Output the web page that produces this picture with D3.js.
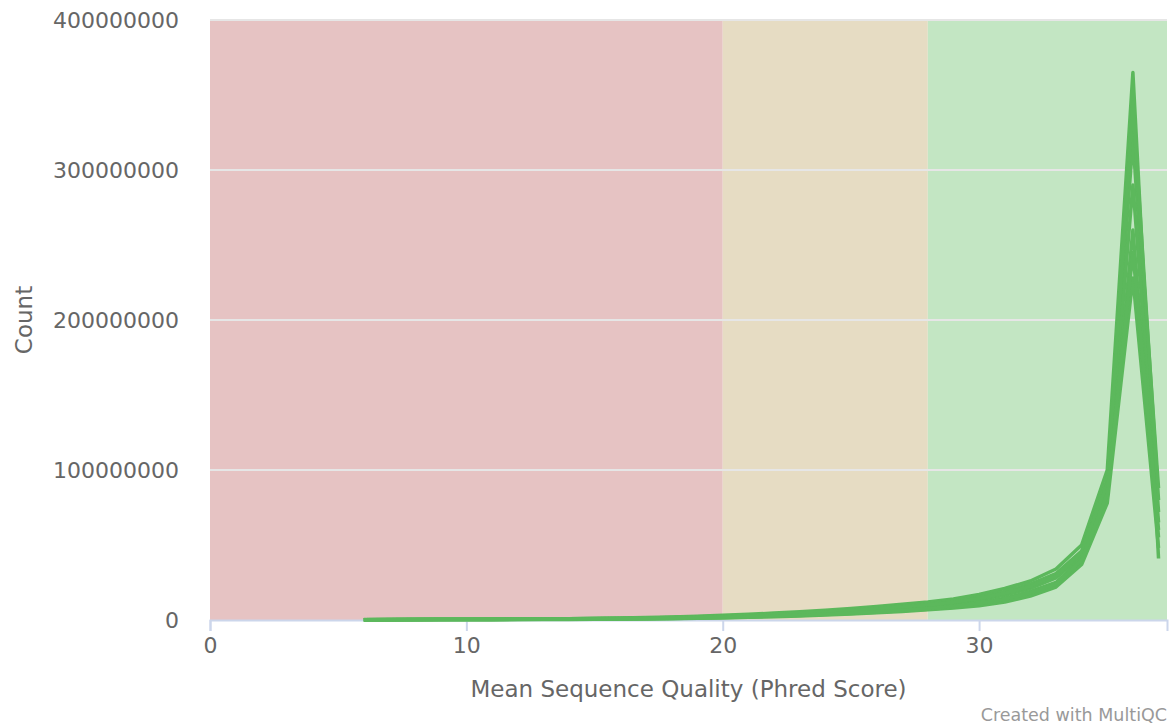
<!DOCTYPE html>
<html>
<head>
<meta charset="utf-8">
<script src="https://cdn.jsdelivr.net/npm/d3@7"></script>
<style>
  body { margin: 0; background: #fff; }
  svg text { font-family: "DejaVu Sans", sans-serif; }
</style>
</head>
<body>
<svg id="chart" width="1176" height="727"></svg>
<script>
// quality scores (x) shared by every sample
var scores = d3.range(6, 38);

// counts per sample, in millions of reads
var sampleA = [0.3,0.4,0.45,0.5,0.55,0.6,0.7,0.8,0.9,1.1,1.3,1.6,2.0,2.5,3.1,3.8,4.6,5.5,6.5,7.7,9.0,10.5,12,14,17,21,26,34,50,100,365,41];
var sampleB = [0.25,0.35,0.4,0.45,0.5,0.55,0.6,0.7,0.8,0.95,1.15,1.4,1.75,2.2,2.7,3.3,4.0,4.8,5.7,6.8,8.0,9.3,10.8,12.6,15.2,19,24,31,46,94,330,88];
var sampleC = [0.2,0.3,0.35,0.4,0.42,0.47,0.52,0.6,0.7,0.82,1.0,1.2,1.5,1.9,2.3,2.8,3.4,4.1,4.9,5.8,6.9,8.0,9.3,11,13.4,16.5,21,28,43,89,320,72];
var sampleD = [0.15,0.25,0.3,0.33,0.36,0.4,0.45,0.52,0.6,0.7,0.85,1.0,1.25,1.6,1.9,2.4,2.9,3.5,4.2,5.0,5.9,6.9,8.1,9.5,11.6,14.5,19,25,41,86,290,65];
var sampleE = [0.12,0.2,0.25,0.28,0.3,0.33,0.38,0.43,0.5,0.6,0.72,0.85,1.05,1.35,1.6,2.0,2.5,3.0,3.6,4.4,5.2,6.1,7.2,8.5,10.4,13,17.5,23,39,82,260,55];
var sampleF = [0.1,0.15,0.2,0.2,0.25,0.25,0.3,0.35,0.4,0.5,0.6,0.7,0.9,1.1,1.4,1.8,2.2,2.7,3.3,4.0,4.8,5.7,6.8,8.0,9.5,12,16,22,37,78,228,48];
var sampleG = [0.22,0.32,0.38,0.42,0.46,0.5,0.56,0.65,0.75,0.9,1.08,1.3,1.62,2.05,2.5,3.05,3.7,4.45,5.3,6.3,7.4,8.6,10,11.8,14.3,17.8,22.5,29.5,45,91,345,80];
var sampleH = [0.14,0.22,0.27,0.3,0.33,0.37,0.42,0.48,0.55,0.65,0.78,0.92,1.15,1.48,1.75,2.2,2.7,3.25,3.9,4.7,5.55,6.5,7.6,9.0,11,13.8,18.2,24,40,84,245,60];

var samples = [sampleA, sampleB, sampleC, sampleD, sampleE, sampleF, sampleG, sampleH];

// background bands: fail / warn / pass
var bandStarts = [0, 20, 28];
var bandEnds = [20, 28, 37.33];
var bandColors = ["#e6c3c3", "#e6dcc3", "#c3e6c3"];

var xTicks = [0, 10, 20, 30];
var yTicks = [0, 100000000, 200000000, 300000000, 400000000];

var svg = d3.select("#chart"),
    margin = {top: 20, right: 9, bottom: 107, left: 210},
    width = +svg.attr("width") - margin.left - margin.right,
    height = +svg.attr("height") - margin.top - margin.bottom;

var x = d3.scaleLinear().domain([0, 37.33]).range([0, width]);
var y = d3.scaleLinear().domain([0, 400000000]).range([height, 0]);

var g = svg.append("g").attr("transform", "translate(" + margin.left + "," + margin.top + ")");

g.selectAll("rect.band")
    .data(bandStarts)
    .enter().append("rect")
    .attr("class", "band")
    .attr("x", function(d) { return x(d); })
    .attr("y", 0)
    .attr("width", function(d, i) { return x(bandEnds[i]) - x(d); })
    .attr("height", height)
    .attr("fill", function(d, i) { return bandColors[i]; });

// grid
g.selectAll("line.grid")
    .data(yTicks.slice(1))
    .enter().append("line")
    .attr("class", "grid")
    .attr("x1", 0).attr("x2", width)
    .attr("y1", function(d) { return y(d); })
    .attr("y2", function(d) { return y(d); })
    .attr("stroke", "#e6e6e6")
    .attr("stroke-width", 2);

// y axis labels
var yAxis = g.append("g").call(d3.axisLeft(y).tickValues(yTicks).tickSize(0).tickPadding(31).tickFormat(d3.format("d")));
yAxis.select(".domain").remove();
yAxis.selectAll("text").attr("fill", "#666").style("font-size", "22px").attr("dy", "0.35em");

// x axis
var xAxis = g.append("g")
    .attr("transform", "translate(0," + height + ")")
    .call(d3.axisBottom(x).tickValues(xTicks).tickSize(11).tickPadding(6).tickFormat(d3.format("d")));
xAxis.select(".domain").attr("stroke", "#ccd6eb").attr("stroke-width", 2);
xAxis.selectAll(".tick line").attr("stroke", "#ccd6eb").attr("stroke-width", 2);
xAxis.selectAll("text").attr("fill", "#666").style("font-size", "22px");

// sample lines
var line = d3.line()
    .x(function(d, i) { return x(scores[i]); })
    .y(function(d) { return y(d * 1000000); });

g.append("g")
    .selectAll("path")
    .data(samples)
    .enter().append("path")
    .attr("d", line)
    .attr("fill", "none")
    .attr("stroke", "#5cb85c")
    .attr("stroke-width", 3.5)
    .attr("stroke-linejoin", "round");

// titles
svg.append("text")
    .attr("transform", "translate(32," + (margin.top + height / 2) + ") rotate(-90)")
    .attr("text-anchor", "middle")
    .attr("fill", "#666")
    .style("font-size", "23px")
    .text("Count");

svg.append("text")
    .attr("x", margin.left + width / 2)
    .attr("y", 697)
    .attr("text-anchor", "middle")
    .attr("fill", "#666")
    .style("font-size", "23px")
    .text("Mean Sequence Quality (Phred Score)");

svg.append("text")
    .attr("x", 1167)
    .attr("y", 721)
    .attr("text-anchor", "end")
    .attr("fill", "#999")
    .style("font-size", "17.5px")
    .text("Created with MultiQC");
</script>
</body>
</html>
